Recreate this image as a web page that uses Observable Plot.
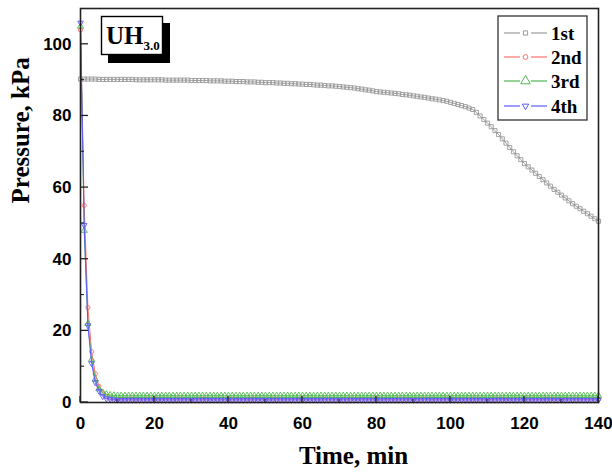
<!DOCTYPE html>
<html>
<head>
<meta charset="utf-8">
<script src="https://cdn.jsdelivr.net/npm/d3@7"></script>
<script src="https://cdn.jsdelivr.net/npm/@observablehq/plot@0.6"></script>
<style>
  html, body { margin: 0; padding: 0; background: #fff; }
  #chart { width: 612px; height: 472px; }
</style>
</head>
<body>
<div id="chart"></div>
<script>
// sampling times (min)
const time = d3.range(0, 141, 1);

// series values (kPa)
const run1st = [
  90.3,90.3,90.3,90.3,90.3,90.2,90.2,90.2,90.2,90.2,
  90.2,90.2,90.2,90.2,90.2,90.1,90.1,90.1,90.1,90.1,
  90.1,90.1,90.1,90.0,90.0,90.0,90.0,90.0,90.0,90.0,
  89.9,89.9,89.9,89.9,89.9,89.8,89.8,89.8,89.8,89.7,
  89.7,89.7,89.6,89.6,89.6,89.5,89.5,89.5,89.4,89.4,
  89.3,89.3,89.3,89.2,89.2,89.1,89.1,89.0,89.0,88.9,
  88.9,88.8,88.8,88.7,88.6,88.6,88.5,88.4,88.4,88.3,
  88.2,88.1,88.0,87.9,87.8,87.6,87.5,87.3,87.2,87.0,
  86.8,86.7,86.6,86.5,86.4,86.3,86.2,86.0,85.9,85.8,
  85.6,85.5,85.3,85.2,85.0,84.8,84.7,84.5,84.3,84.1,
  83.8,83.5,83.2,82.9,82.6,82.2,81.8,81.0,80.0,79.0,
  78.0,77.0,75.9,74.8,73.6,72.4,71.2,70.0,68.9,67.8,
  66.7,65.8,64.9,64.0,63.1,62.2,61.3,60.4,59.5,58.7,
  57.9,57.1,56.3,55.5,54.8,54.1,53.4,52.7,52.0,51.3,
  50.6
];
const run2nd = [
  104,55,26.5,14.2,8.0,4.5,2.6,1.6,1.2,1.0,
  0.9,0.9,0.9,0.9,0.9,0.9,0.9,0.9,0.9,0.9,
  0.9,0.9,0.9,0.9,0.9,0.9,0.9,0.9,0.9,0.9,
  0.9,0.9,0.9,0.9,0.9,0.9,0.9,0.9,0.9,0.9,
  0.9,0.9,0.9,0.9,0.9,0.9,0.9,0.9,0.9,0.9,
  0.9,0.9,0.9,0.9,0.9,0.9,0.9,0.9,0.9,0.9,
  0.9,0.9,0.9,0.9,0.9,0.9,0.9,0.9,0.9,0.9,
  0.9,0.9,0.9,0.9,0.9,0.9,0.9,0.9,0.9,0.9,
  0.9,0.9,0.9,0.9,0.9,0.9,0.9,0.9,0.9,0.9,
  0.9,0.9,0.9,0.9,0.9,0.9,0.9,0.9,0.9,0.9,
  0.9,0.9,0.9,0.9,0.9,0.9,0.9,0.9,0.9,0.9,
  0.9,0.9,0.9,0.9,0.9,0.9,0.9,0.9,0.9,0.9,
  0.9,0.9,0.9,0.9,0.9,0.9,0.9,0.9,0.9,0.9,
  0.9,0.9,0.9,0.9,0.9,0.9,0.9,0.9,0.9,0.9,
  0.9
];
const run3rd = [
  105,48,22,12,6.5,3.8,2.8,2.3,2.1,2.0,
  1.9,1.9,1.9,1.9,1.9,1.9,1.9,1.9,1.9,1.9,
  1.9,1.9,1.9,1.9,1.9,1.9,1.9,1.9,1.9,1.9,
  1.9,1.9,1.9,1.9,1.9,1.9,1.9,1.9,1.9,1.9,
  1.9,1.9,1.9,1.9,1.9,1.9,1.9,1.9,1.9,1.9,
  1.9,1.9,1.9,1.9,1.9,1.9,1.9,1.9,1.9,1.9,
  1.9,1.9,1.9,1.9,1.9,1.9,1.9,1.9,1.9,1.9,
  1.9,1.9,1.9,1.9,1.9,1.9,1.9,1.9,1.9,1.9,
  1.9,1.9,1.9,1.9,1.9,1.9,1.9,1.9,1.9,1.9,
  1.9,1.9,1.9,1.9,1.9,1.9,1.9,1.9,1.9,1.9,
  1.9,1.9,1.9,1.9,1.9,1.9,1.9,1.9,1.9,1.9,
  1.9,1.9,1.9,1.9,1.9,1.9,1.9,1.9,1.9,1.9,
  1.9,1.9,1.9,1.9,1.9,1.9,1.9,1.9,1.9,1.9,
  1.9,1.9,1.9,1.9,1.9,1.9,1.9,1.9,1.9,1.9,
  1.9
];
const run4th = [
  106,49.5,21.5,10.9,5.6,3.2,1.7,1.1,0.9,0.8,
  0.7,0.7,0.7,0.7,0.7,0.7,0.7,0.7,0.7,0.7,
  0.7,0.7,0.7,0.7,0.7,0.7,0.7,0.7,0.7,0.7,
  0.7,0.7,0.7,0.7,0.7,0.7,0.7,0.7,0.7,0.7,
  0.7,0.7,0.7,0.7,0.7,0.7,0.7,0.7,0.7,0.7,
  0.7,0.7,0.7,0.7,0.7,0.7,0.7,0.7,0.7,0.7,
  0.7,0.7,0.7,0.7,0.7,0.7,0.7,0.7,0.7,0.7,
  0.7,0.7,0.7,0.7,0.7,0.7,0.7,0.7,0.7,0.7,
  0.7,0.7,0.7,0.7,0.7,0.7,0.7,0.7,0.7,0.7,
  0.7,0.7,0.7,0.7,0.7,0.7,0.7,0.7,0.7,0.7,
  0.7,0.7,0.7,0.7,0.7,0.7,0.7,0.7,0.7,0.7,
  0.7,0.7,0.7,0.7,0.7,0.7,0.7,0.7,0.7,0.7,
  0.7,0.7,0.7,0.7,0.7,0.7,0.7,0.7,0.7,0.7,
  0.7,0.7,0.7,0.7,0.7,0.7,0.7,0.7,0.7,0.7,
  0.7
];

const seriesNames = ["1st", "2nd", "3rd", "4th"];
const seriesColors = ["#9a9a9a", "#ff6f6f", "#4fb84f", "#5a5aff"];
const seriesSymbols = ["square", "circle", "triangle", "triangle"];
const seriesRotate = [0, 0, 0, 180];
const seriesR = [2.3, 2.1, 2.3, 2.1];
const seriesValues = [run1st, run2nd, run3rd, run4th];

const xMajor = [0, 20, 40, 60, 80, 100, 120, 140];
const xMinor = [10, 30, 50, 70, 90, 110, 130];
const yMajor = [0, 20, 40, 60, 80, 100];
const yMinor = [10, 30, 50, 70, 90];

const xTitle = "Time, min";
const yTitle = "Pressure, kPa";
const tagMain = "UH";
const tagSub = "3.0";

const tables = seriesValues.map((vals, k) =>
  time.map((t, i) => ({ t, p: vals[i], s: seriesNames[k] })));

const tickFont = { fontFamily: "Liberation Sans, Arial, sans-serif", fontWeight: "bold", fontSize: 17, fill: "#000" };

const marks = [];
tables.forEach((tab, k) => {
  marks.push(Plot.line(tab, { x: "t", y: "p", stroke: seriesColors[k], strokeWidth: 1 }));
  marks.push(Plot.dot(tab, { x: "t", y: "p", stroke: seriesColors[k], fill: "none", strokeWidth: 0.9,
    symbol: seriesSymbols[k], r: seriesR[k], rotate: seriesRotate[k] }));
});

const svg = Plot.plot({
  width: 612,
  height: 472,
  marginLeft: 80,
  marginRight: 14,
  marginTop: 8,
  marginBottom: 70,
  style: { background: "#fff", overflow: "visible" },
  x: { domain: [0, 140] },
  y: { domain: [0, 110] },
  marks: [
    ...marks,
    Plot.frame({ stroke: "#222", strokeWidth: 1.6 }),
    Plot.axisX({ ticks: xMajor, tickSize: 0, tickPadding: 14, label: null, ...tickFont }),
    Plot.axisY({ ticks: yMajor, tickSize: 0, tickPadding: 9, label: null, ...tickFont }),
    Plot.text([xTitle], { frameAnchor: "bottom", dx: 14, dy: 53, lineAnchor: "middle",
      fontFamily: "Liberation Serif, Times New Roman, serif", fontWeight: "bold", fontSize: 25, fill: "#000" }),
    Plot.text([yTitle], { frameAnchor: "left", dx: -60, dy: -2, rotate: -90, lineAnchor: "middle",
      fontFamily: "Liberation Serif, Times New Roman, serif", fontWeight: "bold", fontSize: 25, fill: "#000" })
  ]
});

document.getElementById("chart").appendChild(svg);

// ---- inward ticks, drawn through the plot's own scales ----
const root = d3.select(svg);
const sx = svg.scale("x"), sy = svg.scale("y");
const X = v => sx.apply(v), Y = v => sy.apply(v);
const y0 = Y(0), x0 = X(0);
const tickG = root.append("g").attr("stroke", "#222");
xMajor.forEach(v => tickG.append("line").attr("x1", X(v)).attr("x2", X(v)).attr("y1", y0).attr("y2", y0 - 6).attr("stroke-width", 1.3));
xMinor.forEach(v => tickG.append("line").attr("x1", X(v)).attr("x2", X(v)).attr("y1", y0).attr("y2", y0 - 3).attr("stroke-width", 1.1));
yMajor.forEach(v => tickG.append("line").attr("y1", Y(v)).attr("y2", Y(v)).attr("x1", x0).attr("x2", x0 + 8).attr("stroke-width", 1.3));
yMinor.forEach(v => tickG.append("line").attr("y1", Y(v)).attr("y2", Y(v)).attr("x1", x0).attr("x2", x0 + 4).attr("stroke-width", 1.1));

// ---- overlays: sample tag and legend ----
const serif = "Liberation Serif, Times New Roman, serif";

const tag = root.append("g");
tag.append("rect").attr("x", 108).attr("y", 23).attr("width", 62).attr("height", 40).attr("fill", "#000");
tag.append("rect").attr("x", 101.5).attr("y", 16.5).attr("width", 61).attr("height", 38)
  .attr("fill", "#fff").attr("stroke", "#000").attr("stroke-width", 1.4);
const tt = tag.append("text").attr("x", 106).attr("y", 44).attr("text-anchor", "start")
  .attr("font-family", serif).attr("font-weight", "bold").attr("fill", "#000");
tt.append("tspan").attr("font-size", 25).text(tagMain);
tt.append("tspan").attr("font-size", 13).attr("dy", 6).text(tagSub);

const leg = root.append("g");
leg.append("rect").attr("x", 498).attr("y", 16).attr("width", 89).attr("height", 104)
  .attr("fill", "#fff").attr("stroke", "#333").attr("stroke-width", 1.3);
const rowY = [33, 57, 81, 106];
seriesNames.forEach((name, k) => {
  const y = rowY[k];
  leg.append("line").attr("x1", 504).attr("x2", 520).attr("y1", y).attr("y2", y)
    .attr("stroke", seriesColors[k]).attr("stroke-width", 1.2);
  leg.append("line").attr("x1", 531).attr("x2", 547).attr("y1", y).attr("y2", y)
    .attr("stroke", seriesColors[k]).attr("stroke-width", 1.2);
  const sym = { square: d3.symbolSquare, circle: d3.symbolCircle, triangle: d3.symbolTriangle }[seriesSymbols[k]];
  const size = k === 2 ? 40 : 18;
  leg.append("path").attr("d", d3.symbol(sym, size)())
    .attr("transform", `translate(525.5,${y}) rotate(${seriesRotate[k]})`)
    .attr("fill", "none").attr("stroke", seriesColors[k]).attr("stroke-width", 1);
  leg.append("text").attr("x", 551).attr("y", y + 6.5).attr("text-anchor", "start")
    .attr("font-family", serif).attr("font-weight", "bold").attr("font-size", 19).attr("fill", "#000")
    .text(name);
});
</script>
</body>
</html>
